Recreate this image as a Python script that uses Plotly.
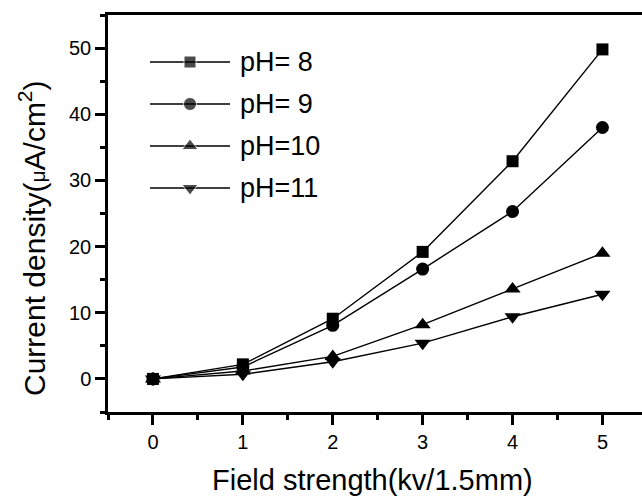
import plotly.graph_objects as go

# ---- data ----
field = [0, 1, 2, 3, 4, 5]
names = ["pH= 8", "pH= 9", "pH=10", "pH=11"]
ph8 = [0.0, 2.2, 9.1, 19.2, 32.9, 49.8]
ph9 = [0.0, 1.8, 8.1, 16.6, 25.3, 38.0]
ph10 = [0.0, 1.2, 3.4, 8.2, 13.6, 19.0]
ph11 = [0.0, 0.7, 2.6, 5.4, 9.4, 12.8]
series = [ph8, ph9, ph10, ph11]
symbols = ["square", "circle", "triangle-up", "triangle-down"]
msizes = [12, 13, 14, 14]

FONT = "Liberation Sans, Arial, sans-serif"

# layout (pixels)
W, H = 642, 501
L, R, T, B = 108, 0, 15, 89
pw, ph = W - L - R, H - T - B
XR = [-0.5, 5.44]
YR = [-5, 55]


def dx(p):  # pixel x -> data x
    return XR[0] + (p - L) / pw * (XR[1] - XR[0])


def dy(p):  # pixel y -> data y
    return YR[0] + (H - B - p) / ph * (YR[1] - YR[0])


def fx(p):  # pixel x -> paper
    return (p - L) / pw


def fy(p):  # pixel y -> paper
    return (H - B - p) / ph


fig = go.Figure()
for name, ys, sym, ms in zip(names, series, symbols, msizes):
    fig.add_trace(go.Scatter(
        x=field, y=ys, mode="lines+markers", name=name, showlegend=False,
        line=dict(color="black", width=1.4),
        marker=dict(symbol=sym, size=ms, color="black"),
    ))

# custom legend (long sample lines like the original)
leg_rows = [62, 104, 146, 188]
lx0, lxm, lx1, ltx = 150, 190, 230, 238
leg_msizes = [12, 13, 14, 14]
for name, sym, ms, ry in zip(names, symbols, leg_msizes, leg_rows):
    fig.add_trace(go.Scatter(
        x=[dx(lx0), dx(lxm), dx(lx1)], y=[dy(ry)] * 3,
        mode="lines+markers", showlegend=False, hoverinfo="skip",
        line=dict(color="black", width=1.4),
        marker=dict(symbol=sym, size=[0, ms, 0], color="black"),
    ))
    fig.add_annotation(
        x=fx(ltx), y=fy(ry), xref="paper", yref="paper", text=name,
        showarrow=False, xanchor="left", yanchor="middle",
        font=dict(family=FONT, size=27, color="black"),
    )

# axis titles
fig.add_annotation(
    x=fx(372), y=fy(480), xref="paper", yref="paper",
    text="Field strength(kv/1.5mm)", showarrow=False,
    xanchor="center", yanchor="middle",
    font=dict(family=FONT, size=29, color="black"),
)
fig.add_annotation(
    x=fx(32), y=fy(238), xref="paper", yref="paper",
    text="Current density(<span style='font-size:21px'>μ</span>A/cm<sup>2</sup>)",
    showarrow=False, textangle=-90, xanchor="center", yanchor="middle",
    font=dict(family=FONT, size=30, color="black"),
)

fig.update_layout(
    width=W, height=H,
    margin=dict(l=L, r=R, t=T, b=B),
    paper_bgcolor="white", plot_bgcolor="white",
    font=dict(family=FONT, color="black"),
    xaxis=dict(
        range=XR, tickmode="linear", tick0=0, dtick=1,
        ticks="outside", ticklen=10, tickwidth=2.5, tickcolor="black",
        minor=dict(dtick=0.5, ticks="outside", ticklen=5, tickwidth=2.5, tickcolor="black"),
        showline=True, linewidth=2.5, linecolor="black", mirror=True,
        showgrid=False, zeroline=False,
        tickfont=dict(size=20, family=FONT),
    ),
    yaxis=dict(
        range=YR, tickmode="linear", tick0=0, dtick=10,
        ticks="outside", ticklen=10, tickwidth=2.5, tickcolor="black",
        minor=dict(dtick=5, ticks="outside", ticklen=5, tickwidth=2.5, tickcolor="black"),
        showline=True, linewidth=2.5, linecolor="black",
        showgrid=False, zeroline=False,
        tickfont=dict(size=20, family=FONT),
    ),
)

fig.write_html("out.html")
